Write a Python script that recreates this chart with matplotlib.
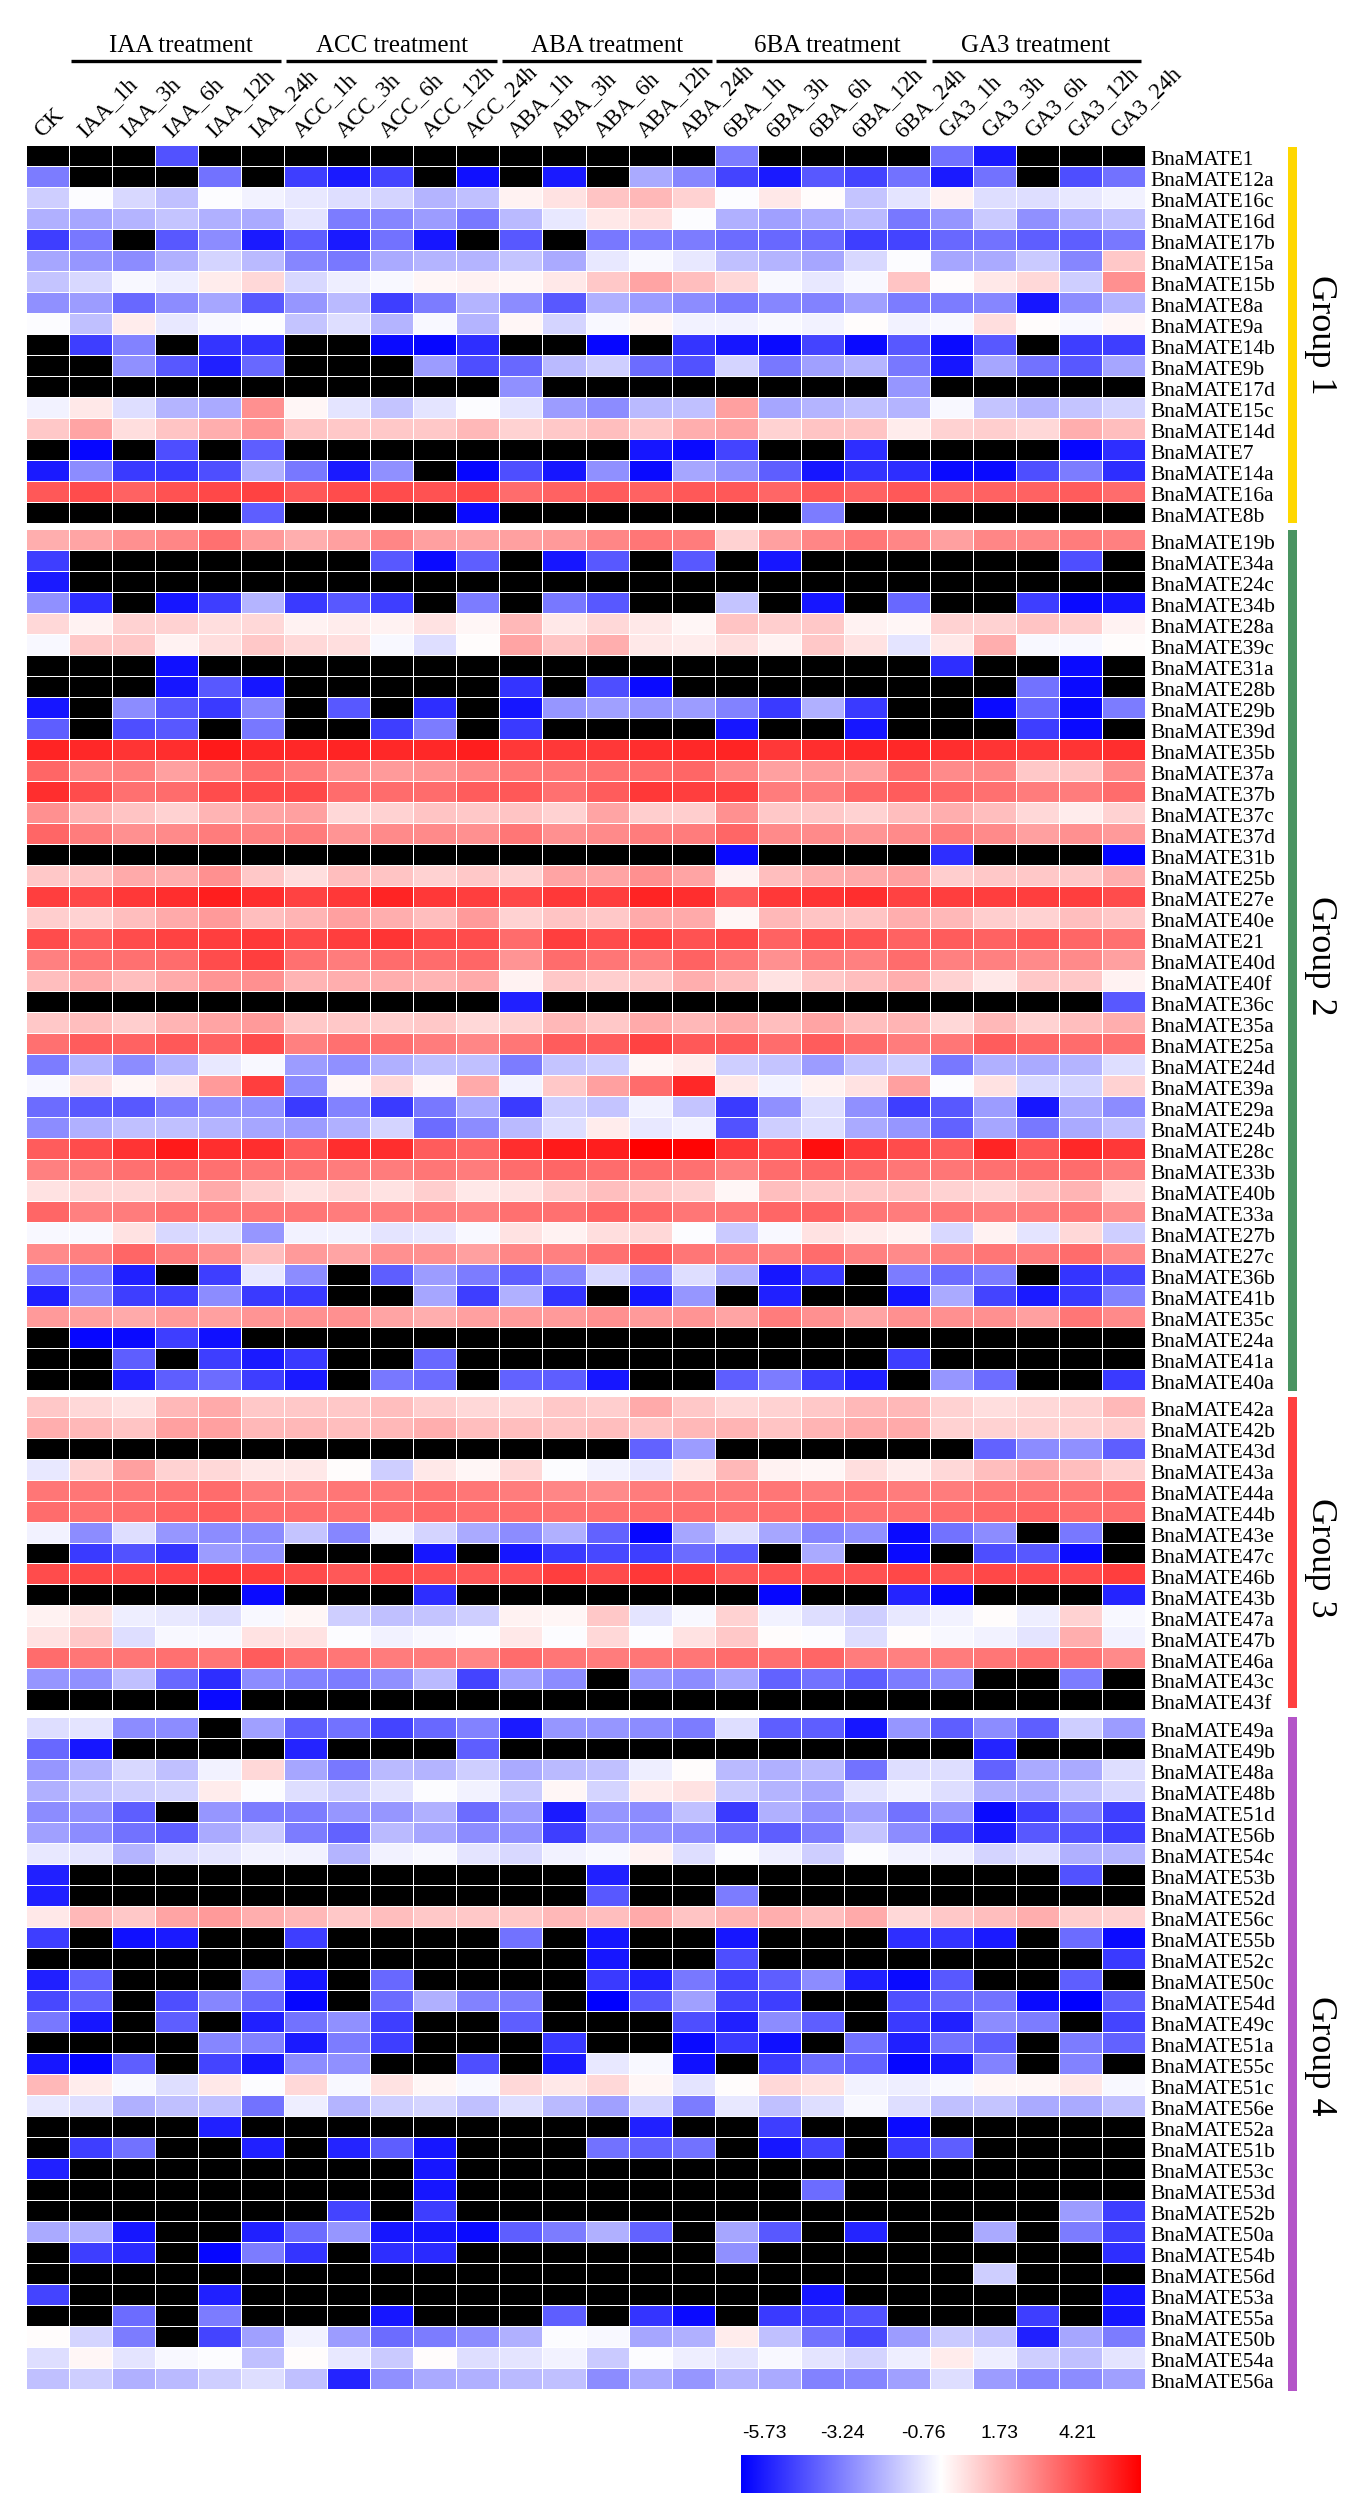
"""
Heatmap of BnaMATE expression under hormone treatments.
"""

import numpy as np
import matplotlib
matplotlib.use("Agg")
import matplotlib.pyplot as plt
from matplotlib.colors import LinearSegmentedColormap
from matplotlib.patches import Rectangle

plt.rcParams["font.family"] = ["Liberation Serif", "DejaVu Serif"]

n = np.nan  # black cells, no expression

columns = ["CK",
           "IAA_1h", "IAA_3h", "IAA_6h", "IAA_12h", "IAA_24h",
           "ACC_1h", "ACC_3h", "ACC_6h", "ACC_12h", "ACC_24h",
           "ABA_1h", "ABA_3h", "ABA_6h", "ABA_12h", "ABA_24h",
           "6BA_1h", "6BA_3h", "6BA_6h", "6BA_12h", "6BA_24h",
           "GA3_1h", "GA3_3h", "GA3_6h", "GA3_12h", "GA3_24h"]

treatments = ["IAA treatment", "ACC treatment", "ABA treatment",
              "6BA treatment", "GA3 treatment"]

scale_ticks = ["-5.73", "-3.24", "-0.76", "1.73", "4.21"]

group1_genes = ["1", "12a", "16c", "16d", "17b", "15a", "15b", "8a", "9a",
                "14b", "9b", "17d", "15c", "14d", "7", "14a", "16a", "8b"]
group1_values = [
    [n,n,n,-4.1,n,n,n,n,n,n,n,n,n,n,n,n,-3.3,n,n,n,n,-3.5,-5.2,n,n,n],
    [-3.3,n,n,n,-3.5,n,-4.5,-5.2,-4.4,n,-5.4,n,-5.2,n,-2.4,-3.1,-4.4,-5.2,-4.0,-4.4,-3.5,-5.2,-3.5,n,-4.2,-3.5],
    [-1.7,-.8,-1.5,-2.0,-.8,-1.0,-1.2,-1.4,-1.6,-2.2,-2.0,-.5,-.2,.4,.6,.1,-.8,-.3,-.7,-1.9,-1.3,-.5,-1.4,-1.4,-1.2,-1.0],
    [-2.3,-2.5,-2.2,-1.9,-2.3,-2.4,-1.3,-3.3,-3.1,-2.7,-3.4,-2.1,-1.2,-.3,-.1,-.8,-2.3,-2.6,-2.4,-2.1,-3.4,-2.8,-1.8,-2.9,-2.3,-2.0],
    [-4.5,-3.4,n,-4.0,-3.0,-5.2,-3.9,-5.2,-3.5,-5.3,n,-4.0,n,-3.4,-3.3,-3.3,-3.6,-3.7,-3.7,-4.5,-4.4,-3.7,-3.5,-3.9,-3.9,-3.4],
    [-2.5,-2.8,-3.0,-2.3,-1.6,-2.1,-3.1,-3.4,-2.4,-2.2,-2.2,-1.9,-2.4,-1.2,-.9,-1.2,-2.0,-2.2,-2.5,-1.5,-.8,-2.5,-2.4,-1.8,-3.1,.3],
    [-1.9,-1.5,-.9,-1.1,-.4,0,-1.5,-1.1,-.9,-.6,-.5,-.6,-.3,.3,1.0,.5,0,-.9,-1.2,-.9,.4,-.7,-.3,0,-1.7,1.4],
    [-2.9,-2.7,-3.7,-3.0,-2.5,-4.0,-2.8,-2.1,-4.5,-3.3,-2.2,-3.0,-4.0,-2.3,-2.7,-3.0,-3.4,-3.1,-3.2,-2.6,-3.3,-3.3,-3.1,-5.3,-3.0,-2.2],
    [-.8,-2.0,-.4,-1.2,-.9,-.8,-1.9,-1.4,-2.2,-.9,-2.2,-.6,-1.6,-.9,-.6,-1.0,-1.0,-.9,-1.0,-.7,-1.0,-.9,-.1,-.7,-.9,-.6],
    [n,-4.5,-3.2,n,-4.7,-4.7,n,n,-5.5,-5.6,-4.8,n,n,-5.6,n,-4.7,-5.3,-5.5,-4.4,-5.5,-4.0,-5.5,-4.0,n,-4.5,-4.5],
    [n,n,-2.9,-4.0,-5.1,-3.7,n,n,n,-2.7,-4.2,-3.7,-2.1,-1.7,-3.6,-4.1,-1.6,-3.4,-2.6,-2.2,-3.4,-5.3,-2.5,-3.5,-4.0,-2.5],
    [n,n,n,n,n,n,n,n,n,n,n,-2.9,n,n,n,n,n,n,n,n,-2.8,n,n,n,n,n],
    [-1.0,-.3,-1.4,-2.2,-2.4,1.4,-.6,-1.3,-1.9,-1.3,-.8,-1.3,-2.7,-3.0,-2.1,-2.0,1.1,-2.5,-2.2,-2.0,-2.2,-.9,-1.9,-2.2,-1.9,-1.6],
    [.3,1.0,-.1,.4,.8,1.3,.4,.3,.3,.3,.6,.1,.3,.5,.3,.8,1.0,.1,.4,.4,-.4,.1,.2,0,.8,.5],
    [n,-5.6,n,-4.2,n,-3.9,n,n,n,n,n,n,n,n,-5.3,-5.5,-4.4,n,n,-4.8,n,n,n,n,-5.6,-4.8],
    [-5.2,-3.0,-4.6,-4.6,-4.2,-2.3,-3.4,-5.2,-2.9,n,-5.6,-4.2,-5.3,-2.9,-5.5,-2.5,-2.9,-3.9,-5.3,-4.7,-4.8,-5.5,-5.5,-4.2,-3.3,-4.8],
    [2.5,2.7,2.3,2.6,2.8,2.9,2.5,2.7,2.7,2.6,2.8,2.1,2.3,2.4,2.3,2.5,2.5,2.2,2.5,2.3,2.5,2.2,2.3,2.3,2.4,2.1],
    [n,n,n,n,n,-3.9,n,n,n,n,-5.5,n,n,n,n,n,n,n,-3.3,n,n,n,n,n,n,n],
]

group2_genes = ["19b", "34a", "24c", "34b", "28a", "39c", "31a", "28b", "29b",
                "39d", "35b", "37a", "37b", "37c", "37d", "31b", "25b", "27e",
                "40e", "21", "40d", "40f", "36c", "35a", "25a", "24d", "39a",
                "29a", "24b", "28c", "33b", "40b", "33a", "27b", "27c", "36b",
                "41b", "35c", "24a", "41a", "40a"]
group2_values = [
    [.8,1.0,1.4,1.6,2.0,1.2,.8,1.1,1.6,1.1,1.0,1.1,1.2,1.6,1.9,1.8,.1,1.1,1.6,1.9,1.6,1.1,1.6,1.6,1.8,1.7],
    [-4.5,n,n,n,n,n,n,n,-4.0,-5.5,-3.9,n,-5.3,-4.0,n,-4.0,n,-5.3,n,n,n,n,n,n,-4.2,n],
    [-5.2,n,n,n,n,n,n,n,n,n,n,n,n,n,n,n,n,n,n,n,n,n,n,n,n,n],
    [-2.9,-4.8,n,-5.3,-4.5,-2.2,-4.6,-4.0,-4.5,n,-3.3,n,-3.4,-4.0,n,n,-1.9,n,-5.3,n,-3.7,n,n,-4.5,-5.5,-5.3],
    [0,-.5,.1,.1,-.1,0,-.5,-.4,-.5,-.2,-.6,.6,-.3,0,-.3,-.6,.4,.2,.3,-.5,-.6,.1,.1,.4,.2,-.5],
    [-.9,.3,.3,-.5,-.1,.3,0,-.1,-.9,-1.4,-.7,1.0,.4,.8,-.3,-.4,-.1,-.5,.3,-.2,-1.3,-.3,.8,-.9,-.9,-.7],
    [n,n,n,-5.4,n,n,n,n,n,n,n,n,n,n,n,n,n,n,n,n,n,-4.8,n,n,-5.5,n],
    [n,n,n,-5.3,-4.0,-5.3,n,n,n,n,n,-4.7,n,-4.2,-5.5,n,n,n,n,n,n,n,n,-3.5,-5.5,n],
    [-5.3,n,-3.0,-4.0,-4.6,-3.1,n,-4.0,n,-4.8,n,-5.3,-2.8,-2.6,-2.8,-2.7,-3.2,-4.6,-2.3,-4.6,n,n,-5.5,-3.7,-5.5,-3.3],
    [-3.9,n,-4.2,-4.0,n,-3.4,n,n,-4.5,-3.3,n,-4.6,n,n,n,n,-5.3,n,n,-5.3,n,n,n,-4.5,-5.5,n],
    [3.5,3.4,3.2,3.3,3.7,3.4,3.4,3.5,3.4,3.4,3.6,3.1,3.1,3.1,3.3,3.4,3.5,3.1,3.3,3.4,3.4,3.3,3.2,3.1,3.2,3.3],
    [2.2,1.6,1.7,1.1,1.6,2.1,1.8,1.3,1.2,1.3,1.6,1.9,1.9,2.0,2.1,2.2,1.6,1.1,1.2,1.1,2.1,1.5,1.6,.3,.4,1.5],
    [3.3,2.7,2.0,2.1,2.7,2.8,2.8,2.1,2.1,2.1,2.4,2.5,2.0,2.4,3.1,3.0,3.0,1.8,1.8,2.2,2.4,2.2,2.0,1.8,1.8,2.1],
    [1.4,.7,.4,.1,.7,1.0,1.1,0,.1,.4,.3,.4,.1,1.0,.2,.2,1.4,.3,.3,.1,.5,.8,.5,0,-.4,.1],
    [2.2,1.8,1.4,1.5,1.8,1.7,1.8,1.3,1.5,1.5,1.4,1.9,1.4,1.5,1.8,1.8,2.2,1.5,1.5,1.3,1.5,1.8,1.5,1.1,1.4,1.2],
    [n,n,n,n,n,n,n,n,n,n,n,n,n,n,n,n,-5.5,n,n,n,n,-4.8,n,n,n,-5.6],
    [.3,.4,.9,.8,1.4,.3,-.1,.5,.4,.1,.3,.1,1.0,1.0,1.4,1.0,-.5,.5,.8,.9,1.1,.2,.3,.3,.3,.8],
    [3.0,2.8,3.1,3.3,3.6,3.3,2.9,3.1,3.5,3.1,3.0,2.8,3.1,3.0,3.5,3.3,2.5,3.1,3.2,3.3,2.9,3.0,3.0,3.0,3.0,2.7],
    [.2,.1,.5,.9,1.2,.5,.7,1.1,.8,.5,1.2,.1,.4,.3,.9,.9,-.6,.6,.4,.4,.8,.6,.2,.1,.5,.3],
    [2.7,2.4,2.7,2.9,3.0,3.1,2.8,3.0,3.2,2.8,2.7,2.1,3.0,2.7,3.0,2.6,2.8,2.3,2.7,2.6,2.3,2.4,2.3,2.5,2.2,2.0],
    [1.7,2.0,2.0,2.1,2.7,3.0,2.0,1.8,2.1,2.1,2.2,1.3,2.1,1.9,1.8,2.3,1.9,1.4,1.8,1.7,2.1,1.7,1.7,1.5,1.5,1.1],
    [.5,.9,.5,.9,1.3,1.4,.7,.8,.8,.7,.9,-.5,.3,.2,.3,.8,.5,-.2,.3,.5,.8,.1,-.3,.3,.3,-.5],
    [n,n,n,n,n,n,n,n,n,n,n,-5.1,n,n,n,n,n,n,n,n,n,n,n,n,n,-4.0],
    [.3,.5,.2,.7,1.0,1.2,.3,.3,.2,.3,0,.1,.6,.3,.9,.6,.9,.5,1.0,.5,.7,0,.6,.1,.5,.8],
    [2.0,2.4,2.3,2.5,2.3,2.7,1.7,2.0,2.0,1.8,1.6,1.9,2.4,2.4,2.9,2.5,2.5,2.1,2.4,2.1,1.8,1.9,2.4,2.2,2.1,2.0],
    [-3.3,-2.2,-3.0,-2.2,-1.2,-.9,-2.7,-2.9,-2.3,-2.0,-2.0,-3.3,-1.9,-1.7,-.6,-.4,-1.7,-1.9,-2.7,-1.9,-1.7,-3.4,-2.3,-2.4,-2.2,-1.4],
    [-.9,-.2,-.6,-.3,1.2,3.0,-3.0,-.6,0,-.6,.9,-1.0,.3,1.1,2.1,3.4,-.3,-1.0,-.5,-.2,1.1,-.8,-.2,-1.5,-1.6,.1],
    [-3.6,-4.0,-4.0,-3.3,-2.9,-2.9,-4.6,-3.2,-4.6,-3.4,-2.4,-4.6,-1.7,-1.9,-1.0,-1.9,-4.6,-2.9,-1.4,-2.9,-4.5,-4.0,-2.7,-5.3,-2.4,-3.0],
    [-3.0,-2.3,-2.0,-2.0,-2.2,-2.5,-2.7,-2.3,-1.6,-3.6,-3.0,-2.1,-1.4,-.4,-1.2,-1.0,-4.1,-1.7,-1.4,-2.4,-2.8,-3.8,-2.5,-3.4,-2.4,-2.0],
    [2.4,2.7,3.2,3.7,3.3,3.3,2.4,3.3,3.3,2.4,2.2,3.3,3.7,3.6,4.2,4.1,3.1,2.7,3.9,3.1,2.7,2.4,3.5,2.5,3.4,3.1],
    [1.7,1.8,2.0,2.1,2.0,1.9,1.9,1.8,1.8,1.9,1.8,2.1,2.2,2.1,2.1,2.0,1.7,2.1,2.2,2.1,1.9,1.9,2.0,2.1,2.1,1.8],
    [-.2,0,0,.2,.9,.2,-.2,0,-.2,.2,-.3,-.2,.2,.5,.3,.1,-.6,.5,.3,.3,.4,.1,0,.3,.7,-.1],
    [2.2,1.7,1.8,2.0,1.9,1.9,1.9,1.8,1.8,1.8,1.7,2.0,2.0,2.3,2.2,1.9,1.9,2.2,2.3,1.9,1.8,1.9,1.8,1.8,1.9,1.4],
    [-.9,-.9,-.2,-1.5,-1.4,-2.8,-1.0,-1.0,-1.3,-1.2,-.9,-.2,-.5,-.1,0,-.8,-1.8,-.9,-.2,-.4,-.5,-1.5,-.5,-1.3,0,-1.7],
    [1.5,1.7,2.2,1.8,1.4,.5,1.2,1.0,1.4,1.4,1.1,1.6,1.7,2.0,2.4,1.9,1.8,1.7,2.1,1.7,1.5,1.7,1.9,1.8,2.1,1.5],
    [-3.2,-3.3,-5.1,n,-4.5,-1.2,-3.0,n,-3.9,-2.7,-3.3,-3.9,-3.1,-1.5,-2.9,-1.4,-2.3,-5.3,-4.6,n,-3.3,-3.6,-3.3,n,-4.7,-4.4],
    [-5.1,-3.1,-4.5,-4.5,-3.0,-4.6,-4.6,n,n,-2.5,-4.5,-2.3,-4.7,n,-5.3,-2.8,n,-5.1,n,n,-5.3,-2.4,-4.4,-5.2,-4.6,-3.2],
    [1.2,1.1,.9,1.2,1.1,1.3,1.4,1.4,1.0,.8,1.1,1.2,1.2,1.4,1.2,1.3,1.0,1.8,1.4,1.0,1.4,1.4,1.4,1.1,1.9,1.5],
    [n,-5.6,-5.5,-4.5,-5.4,n,n,n,n,n,n,n,n,n,n,n,n,n,n,n,n,n,n,n,n,n],
    [n,n,-3.9,n,-4.5,-5.2,-4.6,n,n,-3.7,n,n,n,n,n,n,n,n,n,n,-4.5,n,n,n,n,n],
    [n,n,-5.1,-3.9,-3.6,-4.5,-5.2,n,-3.4,-3.6,n,-3.8,-3.9,-5.3,n,n,-3.9,-3.3,-4.5,-5.1,n,-2.8,-3.6,n,n,-4.6],
]

group3_genes = ["42a", "42b", "43d", "43a", "44a", "44b", "43e", "47c", "46b",
                "43b", "47a", "47b", "46a", "43c", "43f"]
group3_values = [
    [.3,0,-.2,.6,.9,.3,.3,.3,.5,.2,0,0,.3,.2,.9,.3,0,.1,.3,.6,.6,.1,-.1,0,.1,.6],
    [.8,.6,.4,1.1,1.1,.6,.6,.5,.6,.8,.5,.5,.4,.5,.4,.6,.7,.4,.7,.9,.9,.1,.1,.1,.1,.2],
    [n,n,n,n,n,n,n,n,n,n,n,n,n,n,-3.8,-2.7,n,n,n,n,n,n,-3.8,-3.0,-2.9,-3.9],
    [-1.2,.1,1.1,.1,0,-.3,-.3,-.7,-1.7,-.3,-.6,0,-.8,-1.0,-1.2,-.3,.6,-.5,-.6,-.1,-.4,0,.5,.9,.5,.1],
    [1.9,1.9,1.9,2.0,2.1,1.8,1.7,1.9,1.9,2.0,1.9,1.8,1.6,1.5,1.8,1.8,1.8,1.9,1.8,1.9,1.8,1.8,1.9,1.9,1.9,2.0],
    [2.1,2.0,2.1,2.3,2.4,2.1,2.1,2.0,2.1,2.2,2.1,2.1,2.0,2.0,2.1,2.1,2.0,2.1,2.2,2.0,2.0,2.1,2.2,2.3,2.1,2.1],
    [-1.0,-3.0,-1.4,-2.8,-3.0,-3.0,-1.9,-3.1,-1.0,-1.6,-2.4,-3.0,-2.3,-3.8,-5.6,-2.5,-1.4,-2.5,-3.1,-2.9,-5.5,-3.5,-3.0,n,-3.4,n],
    [n,-4.6,-4.1,-4.7,-2.7,-2.9,n,n,n,-5.3,n,-5.3,-4.6,-4.3,-4.5,-3.6,-4.0,n,-2.4,n,-5.5,n,-4.2,-4.0,-5.5,n],
    [2.7,2.8,2.8,2.9,3.1,3.0,2.7,2.5,2.7,2.6,2.5,2.6,3.0,2.7,3.1,3.0,2.5,2.6,2.6,2.6,2.8,2.6,2.8,2.8,2.7,3.0],
    [n,n,n,n,n,-5.5,n,n,n,-4.8,n,n,n,n,n,n,n,-5.6,n,n,-5.0,-5.6,n,n,n,-5.0],
    [-.5,-.2,-1.1,-1.2,-1.4,-.9,-.6,-1.7,-2.0,-1.9,-1.7,-.5,-.6,.3,-1.3,-.9,.1,-1.0,-1.4,-1.7,-1.2,-1.0,-.7,-1.1,.1,-.9],
    [-.2,.3,-1.4,-.9,-.9,-.2,-.2,-.8,-1.0,-.9,-.8,-.3,-.8,0,-.8,-.2,.3,-.7,-.8,-1.4,-.7,-.9,-1.0,-1.3,.8,-1.0],
    [2.1,1.9,1.9,2.0,1.9,2.4,2.0,1.9,1.8,1.8,1.6,2.1,1.9,1.8,1.9,1.9,2.1,2.0,2.2,1.8,1.7,1.8,1.9,2.0,1.9,1.5],
    [-2.8,-2.9,-2.0,-3.7,-4.8,-3.0,-3.2,-3.3,-2.9,-2.1,-4.4,-2.6,-3.0,n,-2.8,-3.0,-2.5,-3.8,-3.5,-3.9,-3.3,-3.0,n,n,-3.3,n],
    [n,n,n,n,-5.5,n,n,n,n,n,n,n,n,n,n,n,n,n,n,n,n,n,n,n,n,n],
]

group4_genes = ["49a", "49b", "48a", "48b", "51d", "56b", "54c", "53b", "52d",
                "56c", "55b", "52c", "50c", "54d", "49c", "51a", "55c", "51c",
                "56e", "52a", "51b", "53c", "53d", "52b", "50a", "54b", "56d",
                "53a", "55a", "50b", "54a", "56a"]
group4_values = [
    [-1.4,-1.3,-3.0,-3.0,n,-2.6,-3.9,-3.5,-4.4,-3.7,-3.2,-5.2,-2.8,-2.8,-3.0,-3.3,-1.4,-3.9,-3.9,-5.3,-2.8,-3.9,-3.0,-3.9,-1.7,-2.7],
    [-3.7,-5.3,n,n,n,n,-5.0,n,n,n,-3.9,n,n,n,n,n,n,n,n,n,n,n,-5.0,n,n,n],
    [-2.8,-2.2,-1.5,-2.0,-1.0,0,-2.5,-3.4,-2.1,-2.2,-1.7,-2.4,-2.1,-2.0,-1.1,-.7,-2.1,-2.3,-2.1,-3.5,-1.4,-1.4,-3.8,-2.4,-2.4,-1.4],
    [-2.3,-1.9,-1.7,-1.6,-.4,-.8,-1.4,-1.7,-1.3,-.8,-1.0,-1.8,-.6,-1.6,-.4,-.2,-1.8,-2.2,-2.5,-1.3,-1.0,-1.4,-2.3,-2.4,-1.9,-1.5],
    [-3.0,-2.9,-3.9,n,-2.8,-3.3,-3.3,-2.8,-2.8,-2.3,-3.6,-2.7,-5.2,-2.8,-3.0,-2.0,-4.6,-2.3,-2.9,-2.6,-3.5,-2.8,-5.5,-4.5,-3.3,-4.5],
    [-2.6,-3.0,-3.5,-3.9,-2.4,-1.8,-3.3,-3.8,-2.1,-2.5,-3.0,-2.9,-4.5,-2.8,-2.9,-3.0,-3.6,-3.9,-3.3,-1.9,-3.0,-4.1,-5.2,-4.0,-4.1,-4.5],
    [-1.2,-1.3,-2.2,-1.4,-1.3,-1.0,-1.0,-2.2,-1.0,-.9,-1.3,-1.5,-1.0,-.9,-.5,-1.4,-.8,-1.1,-1.7,-.8,-1.0,-1.1,-1.6,-1.4,-2.3,-2.2],
    [-5.1,n,n,n,n,n,n,n,n,n,n,n,n,-5.1,n,n,n,n,n,n,n,n,n,n,-4.1,n],
    [-5.1,n,n,n,n,n,n,n,n,n,n,n,n,-4.0,n,n,-3.3,n,n,n,n,n,n,n,n,n],
    [-.3,.6,.3,1.0,1.2,.8,.6,.3,.5,.3,.3,.3,.6,.5,.9,.4,.7,.8,.5,.9,0,.3,.5,.8,.2,.1],
    [-4.5,n,-5.4,-5.2,n,n,-4.5,n,n,n,n,-3.5,n,-5.3,n,n,-5.3,n,n,n,-4.8,-4.7,-5.2,n,-3.6,-5.5],
    [n,n,n,n,n,n,n,n,n,n,n,n,n,-5.3,n,n,-4.2,n,n,n,n,n,n,n,n,-4.6],
    [-5.1,-3.8,n,n,n,-3.0,-5.3,n,-3.7,n,n,n,n,-4.6,-5.1,-3.4,-4.4,-3.9,-3.0,-5.1,-5.5,-4.0,n,n,-3.9,n],
    [-4.3,-3.8,n,-4.2,-3.1,-3.7,-5.6,n,-3.6,-2.3,-3.2,-3.3,n,-5.7,-4.0,-2.6,-4.4,-4.5,n,n,-4.2,-3.7,-3.5,-5.5,-5.7,-3.9],
    [-3.4,-5.3,n,-3.9,n,-5.1,-3.5,-2.9,-4.5,n,n,-3.9,n,n,n,-4.2,-5.1,-3.0,-3.9,n,-4.6,-5.1,-3.0,-3.3,n,-4.4],
    [n,n,n,n,-3.1,-3.2,-5.2,-3.3,-4.5,n,n,n,-4.6,n,n,-5.5,-4.6,-5.4,n,-3.5,-5.1,-3.5,-3.9,n,-3.3,-3.8],
    [-5.3,-5.6,-3.9,n,-4.4,-5.3,-3.0,-2.9,n,n,-4.2,n,-5.2,-1.2,-.9,-5.4,n,-4.6,-3.6,-3.8,-5.6,-5.3,-3.2,n,-3.2,n],
    [.6,-.4,-.9,-1.4,-.3,-.8,0,-.9,-.2,-.6,-.9,0,-.3,0,-.6,-1.3,-.7,0,-.2,-1.0,-1.1,-.9,-.6,-.6,-.3,-.9],
    [-1.2,-1.4,-2.3,-2.0,-2.0,-3.5,-1.1,-2.2,-1.7,-1.6,-2.0,-1.4,-2.1,-2.6,-1.6,-3.3,-1.2,-2.0,-1.4,-.9,-1.4,-2.0,-1.9,-2.4,-2.4,-2.0],
    [n,n,n,n,-5.1,n,n,n,n,n,n,n,n,n,-5.1,n,n,-4.5,n,n,-5.5,n,n,n,n,n],
    [n,-4.5,-3.5,n,n,-5.1,n,-5.0,-3.9,-5.3,n,n,n,-3.5,-3.8,-3.5,n,-5.3,-4.4,n,-4.6,-3.9,n,n,n,n],
    [-5.1,n,n,n,n,n,n,n,n,-5.3,n,n,n,n,n,n,n,n,n,n,n,n,n,n,n,n],
    [n,n,n,n,n,n,n,n,n,-5.3,n,n,n,n,n,n,n,n,-3.6,n,n,n,n,n,n,n],
    [n,n,n,n,n,n,n,-4.4,n,-4.5,n,n,n,n,n,n,n,n,n,n,n,n,n,n,-2.7,-4.5],
    [-2.4,-2.3,-5.3,n,n,-5.1,-3.6,-2.8,-5.3,-5.3,-5.5,-3.9,-3.3,-2.3,-3.8,n,-2.5,-4.0,n,-5.0,n,n,-2.4,n,-3.3,-4.5],
    [n,-4.5,-4.9,n,-5.6,-3.3,-4.7,n,-4.8,-4.9,n,n,n,n,n,n,-2.9,n,n,n,n,n,n,n,n,-4.8],
    [n,n,n,n,n,n,n,n,n,n,n,n,n,n,n,n,n,n,n,n,n,n,-1.7,n,n,n],
    [-4.4,n,n,n,-5.1,n,n,n,n,n,n,n,n,n,n,n,n,n,-5.3,n,n,n,n,n,n,-5.3],
    [n,n,-3.6,n,-3.3,n,n,n,-5.3,n,n,n,-3.9,n,-4.7,-5.5,n,-4.6,-4.5,-4.1,n,n,n,-4.5,n,-5.3],
    [-.7,-1.6,-3.3,n,-4.4,-2.6,-1.0,-2.7,-3.6,-3.3,-3.0,-2.3,-.8,-.9,-2.5,-2.3,-.4,-2.0,-3.5,-4.3,-2.7,-1.8,-2.0,-5.1,-2.5,-3.3],
    [-1.4,-.6,-1.3,-.9,-.8,-2.0,-.7,-1.2,-1.8,-.7,-1.4,-1.3,-1.0,-1.8,-.8,-1.1,-1.3,-.9,-1.3,-1.6,-1.1,-.4,-1.1,-1.7,-2.0,-1.3],
    [-2.0,-1.7,-2.3,-2.1,-1.7,-1.4,-2.0,-5.0,-2.9,-2.4,-2.3,-2.1,-2.0,-3.0,-2.4,-2.8,-2.2,-2.4,-3.2,-3.1,-2.6,-1.4,-2.7,-3.1,-3.0,-2.6],
]

# pixel layout of the picture
FIG_W, FIG_H = 1357, 2505
HEAT_LEFT, HEAT_RIGHT = 26, 1145
group_spans = [(145, 523), (529, 1390), (1396, 1710), (1717, 2389)]
group_bars = [(147, 523), (530, 1391), (1397, 1708), (1717, 2391)]
group_colors = ["#ffd700", "#4a9461", "#ff4040", "#b455c8"]
group_text_y = [335, 956, 1558, 2056]
bracket_spans = [(71, 281), (286, 497), (502, 712), (716, 926), (932, 1141)]
header_x = [181, 392, 607, 827, 1036]
tick_x = [764, 842, 923, 1000, 1078]

VMIN, VMAX = -5.73, 4.21

cmap = LinearSegmentedColormap.from_list("bwr_heat", ["#0000ff", "#ffffff", "#ff0000"])
cmap.set_bad("black")


def pixel_axes(fig, left, top, right, bottom):
    return fig.add_axes([left / FIG_W, 1 - bottom / FIG_H,
                         (right - left) / FIG_W, (bottom - top) / FIG_H])


def draw_group(fig, genes, values, span):
    for gene, row in zip(genes, values):
        if len(row) != len(columns):
            raise ValueError(f"{gene}: {len(row)} values")

    ax = pixel_axes(fig, HEAT_LEFT, span[0], HEAT_RIGHT, span[1])
    data = np.ma.masked_invalid(np.array(values, dtype=float))
    ax.pcolormesh(data, cmap=cmap, vmin=VMIN, vmax=VMAX,
                  edgecolors="white", linewidth=0.7)
    ax.set_ylim(len(genes), 0)
    ax.axis("off")

    for i, gene in enumerate(genes):
        ax.text(len(columns) + 0.12, i + 0.97, "BnaMATE" + gene,
                fontsize=15.5, ha="left", va="baseline", clip_on=False)


fig = plt.figure(figsize=(FIG_W / 100, FIG_H / 100), dpi=100, facecolor="white")

page = fig.add_axes([0, 0, 1, 1])
page.set_xlim(0, FIG_W)
page.set_ylim(FIG_H, 0)
page.axis("off")

all_genes = [group1_genes, group2_genes, group3_genes, group4_genes]
all_values = [group1_values, group2_values, group3_values, group4_values]
for genes, values, span in zip(all_genes, all_values, group_spans):
    draw_group(fig, genes, values, span)

# treatment headers and brackets
for name, x, (x0, x1) in zip(treatments, header_x, bracket_spans):
    page.text(x, 52, name, fontsize=18, ha="center", va="baseline")
    page.plot([x0, x1], [61, 61], color="black", lw=2.4, solid_capstyle="butt")

# column labels
col_w = (HEAT_RIGHT - HEAT_LEFT) / len(columns)
for j, name in enumerate(columns):
    page.text(HEAT_LEFT + col_w * j + 16, 138, name, fontsize=16.5, rotation=45,
              ha="left", va="baseline", rotation_mode="anchor")

# group bars and names
for i, (y0, y1) in enumerate(group_bars):
    page.add_patch(Rectangle((1288, y0), 9, y1 - y0, color=group_colors[i], lw=0))
    page.text(1320, group_text_y[i], f"Group {i + 1}", fontsize=26,
              rotation=-90, ha="center", va="center")

# colour scale
bar = pixel_axes(fig, 741, 2455, 1141, 2493)
bar.imshow(np.linspace(VMIN, VMAX, 256).reshape(1, -1), cmap=cmap,
           vmin=VMIN, vmax=VMAX, aspect="auto")
bar.axis("off")
for x, label in zip(tick_x, scale_ticks):
    page.text(x, 2433, label, fontsize=14, family=["Liberation Sans", "DejaVu Sans"],
              ha="center", va="center")

fig.savefig("out.png", dpi=100)
